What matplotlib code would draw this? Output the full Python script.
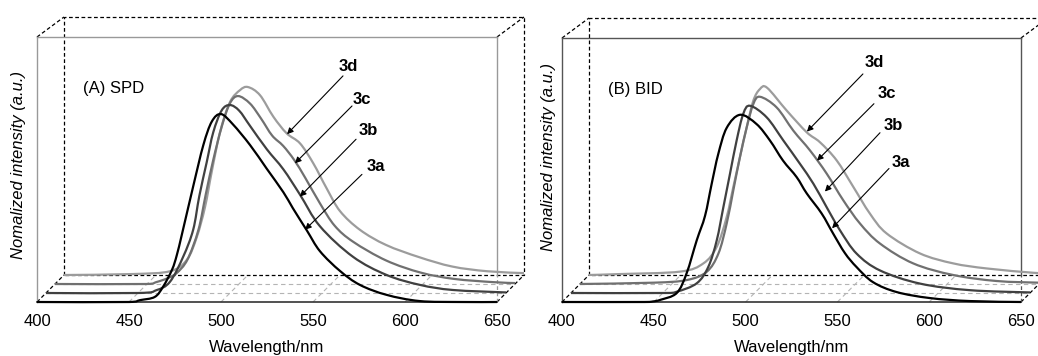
import numpy as np
import matplotlib.pyplot as plt
from matplotlib.path import Path
from matplotlib.patches import PathPatch

plt.rcParams['font.family'] = ['Liberation Sans', 'DejaVu Sans']

# spectra, each in its own depth plane (nm, normalized intensity)
wl_3a_A = [400, 450, 456, 464, 468.5, 473.4, 476, 479, 485, 490.4, 495, 500, 506.5, 515.8, 524.8,
           533.9, 539, 546.7, 553.8, 564.7, 575.5, 590, 608, 630, 650]
in_3a_A = [0, 0, 0.01, 0.027, 0.081, 0.172, 0.25, 0.37, 0.62, 0.835, 0.96, 1.0, 0.945, 0.835, 0.71,
           0.584, 0.5, 0.38, 0.27, 0.165, 0.091, 0.038, 0.005, 0, 0]
wl_3b_A = [400, 450, 460, 467.4, 474.6, 480, 483.3, 487.3, 490.9, 495.5, 500, 505, 510.9, 520, 529,
           538, 548.9, 566.8, 585.1, 603.3, 621.2, 650]
in_3b_A = [0, 0, 0.015, 0.06, 0.194, 0.337, 0.515, 0.694, 0.855, 0.972, 1.0, 0.97, 0.889, 0.765, 0.658,
           0.524, 0.355, 0.193, 0.096, 0.043, 0.016, 0.003]
wl_3c_A = [400, 450, 455, 461, 466, 472, 478, 482, 486, 490.6, 495, 499.5, 506, 512, 518, 524, 530,
           536, 544, 552, 562, 580, 599, 617, 638, 650]
in_3c_A = [0, 0, 0.01, 0.03, 0.057, 0.13, 0.29, 0.48, 0.66, 0.837, 0.96, 1.0, 0.96, 0.88, 0.79, 0.735, 0.66,
           0.565, 0.429, 0.31, 0.225, 0.125, 0.06, 0.027, 0.01, 0.005]
wl_3d_A = [400, 437, 457.6, 466.7, 472.1, 476.6, 480.3, 484.8, 490.2, 495.7, 500, 506.5, 513.8, 521,
           528.3, 535.5, 542.8, 550, 560.9, 575, 593, 611, 630, 650]
in_3d_A = [0, 0.005, 0.02, 0.08, 0.2, 0.36, 0.55, 0.76, 0.92, 0.984, 1.0, 0.957, 0.842, 0.754,
           0.7, 0.594, 0.46, 0.34, 0.24, 0.16, 0.095, 0.045, 0.02, 0.01]

wl_3a_B = [400, 445, 449.6, 453.4, 462.5, 467.9, 473.4, 477.9, 481.5, 485.1, 489.7, 497, 506, 513.3,
           520.4, 527.8, 533.3, 541.4, 547.6, 554.1, 560.5, 569.4, 582.3, 600.4, 622.2, 650]
in_3a_B = [0, 0, 0.003, 0.011, 0.048, 0.154, 0.33, 0.46, 0.63, 0.79, 0.93, 1.0, 0.95, 0.862,
           0.755, 0.667, 0.58, 0.473, 0.367, 0.261, 0.186, 0.106, 0.053, 0.021, 0.005, 0]
wl_3b_B = [400, 450, 457.6, 468.5, 474.8, 479.4, 483, 486.6, 490.2, 493.8, 497.5, 506.6, 515.7, 524.7,
           532, 539.2, 546.5, 555.6, 568.4, 590.2, 617.3, 650]
in_3b_B = [0, 0, 0.007, 0.052, 0.14, 0.282, 0.459, 0.637, 0.814, 0.956, 1.0, 0.938, 0.814, 0.69,
           0.584, 0.459, 0.335, 0.21, 0.12, 0.05, 0.015, 0.003]
wl_3c_B = [400, 440, 458.1, 469, 475.4, 479.9, 483.5, 487.1, 490.8, 494.4, 498, 507.1, 516.2, 525.3,
           534.4, 543.4, 552.5, 563.4, 581.5, 603.3, 626.9, 650]
in_3c_B = [0, 0.007, 0.021, 0.065, 0.163, 0.323, 0.5, 0.677, 0.837, 0.961, 1.0, 0.943, 0.819, 0.713,
           0.589, 0.447, 0.323, 0.216, 0.11, 0.048, 0.016, 0.007]
wl_3d_B = [400, 416.9, 449.6, 462.3, 469.6, 475, 478.6, 482.2, 485.9, 489.5, 493.1, 497, 507.7, 518.6,
           525.8, 534.9, 544, 553, 562.1, 580.3, 598.4, 616.6, 641.9, 650]
in_3d_B = [0, 0.005, 0.018, 0.062, 0.151, 0.31, 0.47, 0.629, 0.789, 0.931, 0.993, 1.0, 0.878, 0.762,
           0.709, 0.612, 0.47, 0.328, 0.222, 0.115, 0.062, 0.035, 0.012, 0.01]

names = ['3a', '3b', '3c', '3d']
colors = ['#000000', '#404040', '#707070', '#9c9c9c']
ticks = [400, 450, 500, 550, 600, 650]

# label text positions and arrows (tail -> head) in front-plane data units
lab_A = [(584.2, 0.722), (579.9, 0.914), (576.6, 1.080), (569.0, 1.251)]
arr_A = [((576.6, 0.679), (545.7, 0.385)), ((573.4, 0.866), (542.9, 0.561)),
         ((571.2, 1.043), (540.2, 0.738)), ((566.3, 1.203), (535.9, 0.893))]
lab_B = [(584.6, 0.745), (580.3, 0.941), (577.0, 1.112), (569.9, 1.277)]
arr_B = [((578.1, 0.713), (547.1, 0.394)), ((573.2, 0.904), (543.2, 0.590)),
         ((569.9, 1.059), (538.9, 0.755)), ((563.9, 1.218), (533.4, 0.910))]

W, H = 1038, 356
ytop = 1.41
depth_px = 9

fig = plt.figure(figsize=(W / 100, H / 100), dpi=100)
axA = fig.add_axes([37 / W, 54 / H, 460 / W, 265 / H])
axB = fig.add_axes([562 / W, 54 / H, 459 / W, 264 / H])


def smooth_path(x, y):
    # Catmull-Rom through the read points, drawn as cubic Bezier segments
    p = np.column_stack([x, y]).astype(float)
    ext = np.vstack([p[0], p, p[-1]])
    verts = [p[0]]
    codes = [Path.MOVETO]
    for i in range(len(p) - 1):
        p0, p1, p2, p3 = ext[i], ext[i + 1], ext[i + 2], ext[i + 3]
        c1 = p1 + (p2 - p0) / 6.0
        c2 = p2 - (p3 - p1) / 6.0
        c1[0] = min(max(c1[0], p1[0]), p2[0])
        c2[0] = min(max(c2[0], p1[0]), p2[0])
        verts += [c1, c2, p2]
        codes += [Path.CURVE4] * 3
    return Path(verts, codes)


def panel(ax, curves, tag, labs, arrs, frame, ylab_x, ylab_y):
    ax.set_xlim(400, 650)
    ax.set_ylim(0, ytop)
    pos = ax.get_position()
    ppx = pos.width * W / 250.0
    ppy = pos.height * H / ytop
    dx = depth_px / ppx
    dy = depth_px / ppy
    bx, by = 3 * dx, 3 * dy
    btop = ytop + 20 / ppy
    kw = dict(clip_on=False)

    # back box and depth edges
    blk = dict(color='k', lw=0.9, ls=(0, (3, 2)), zorder=1, **kw)
    ax.plot([400 + bx, 400 + bx, 650 + bx, 650 + bx, 400 + bx], [by, btop, btop, by, by], **blk)
    for x0 in (400, 650):
        ax.plot([x0, x0 + bx], [0, by], **blk)
        ax.plot([x0, x0 + bx], [ytop, btop], **blk)
    gry = dict(color='#b4b4b4', lw=0.8, ls=(0, (4, 3)), zorder=1, **kw)
    for t in ticks[1:-1]:
        ax.plot([t, t + bx], [0, by], **gry)
    for k in (1, 2):
        ax.plot([400 + k * dx, 650 + k * dx], [k * dy, k * dy], **gry)

    # front frame
    for s in ('left', 'top'):
        ax.spines[s].set_color(frame)
        ax.spines[s].set_linewidth(1.0)
    ax.spines['right'].set_visible(False)
    ax.spines['bottom'].set_color('#333333')
    ax.spines['bottom'].set_linewidth(1.2)
    ax.plot([650, 650], [by, ytop], color=frame, lw=1.0, zorder=1, **kw)
    ax.plot([650, 650], [0, by], color=frame, lw=0.9, ls=(0, (3, 2)), zorder=1, **kw)

    # spectra, back ones first
    for k in (3, 2, 1, 0):
        wl, inten = curves[k]
        path = smooth_path(np.array(wl) + k * dx, np.array(inten) + k * dy)
        ax.add_patch(PathPatch(path, fill=False, edgecolor=colors[k], lw=1.6,
                               joinstyle='round', zorder=5 + (3 - k), **kw))

    for k in range(4):
        ax.text(labs[k][0], labs[k][1], names[k], fontsize=12, fontweight='bold',
                ha='center', va='center')
        ax.annotate('', xy=arrs[k][1], xytext=arrs[k][0],
                    arrowprops=dict(arrowstyle='-|>', color='k', lw=0.8,
                                    mutation_scale=9, shrinkA=0, shrinkB=0), zorder=10)

    ax.text(0.1, 0.804, tag, transform=ax.transAxes, fontsize=12, ha='left', va='center')
    ax.text(ylab_x, ylab_y, 'Nomalized intensity (a.u.)', transform=ax.transAxes,
            rotation=90, style='italic', fontsize=12, ha='center', va='center')

    ax.set_xticks(ticks)
    ax.set_yticks([])
    ax.tick_params(axis='x', length=0, pad=9, labelsize=12)
    ax.set_xlabel('Wavelength/nm', fontsize=12, labelpad=7.5)
    ax.set_facecolor('none')


panel(axA, [(wl_3a_A, in_3a_A), (wl_3b_A, in_3b_A), (wl_3c_A, in_3c_A), (wl_3d_A, in_3d_A)],
      '(A) SPD', lab_A, arr_A, '#999999', (19 - 37) / 460, (302 - 165) / 265)
panel(axB, [(wl_3a_B, in_3a_B), (wl_3b_B, in_3b_B), (wl_3c_B, in_3c_B), (wl_3d_B, in_3d_B)],
      '(B) BID', lab_B, arr_B, '#555555', (548 - 562) / 459, (302 - 157) / 264)

fig.savefig('out.png', dpi=100)
